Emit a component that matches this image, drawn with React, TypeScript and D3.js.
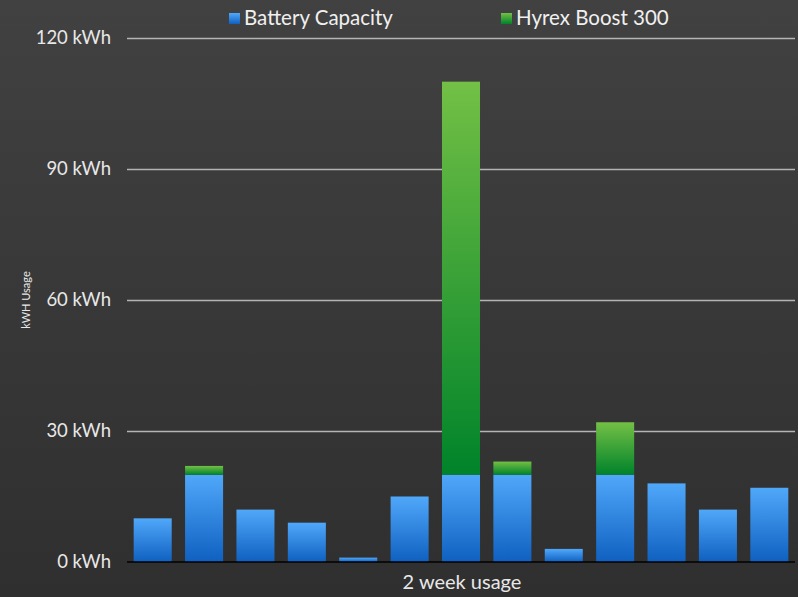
import React, { useEffect, useRef } from 'react';
import * as d3 from 'd3';

// values
const days = ['1', '2', '3', '4', '5', '6', '7', '8', '9', '10', '11', '12', '13'];
const battery = [10, 20, 12, 9, 1, 15, 20, 20, 3, 20, 18, 12, 17];
const hyrex = [0, 2, 0, 0, 0, 0, 90, 3, 0, 12, 0, 0, 0];
const yTicks = [0, 30, 60, 90, 120];
const seriesNames = ['Battery Capacity', 'Hyrex Boost 300'];

const App = () => {
    const ref = useRef<SVGSVGElement>(null);

    useEffect(() => {
        document.body.style.margin = '0';
        if (!ref.current) return;
        const width = 798, height = 597;
        const margin = { top: 38, right: 3, bottom: 35, left: 127 };

        const svg = d3.select(ref.current);
        svg.selectAll('*').remove();
        svg.attr('width', width).attr('height', height);

        const defs = svg.append('defs');
        const grad = (id: string, top: string, bottom: string) => {
            const g = defs.append('linearGradient').attr('id', id)
                .attr('x1', 0).attr('y1', 0).attr('x2', 0).attr('y2', 1);
            g.append('stop').attr('offset', '0%').attr('stop-color', top);
            g.append('stop').attr('offset', '100%').attr('stop-color', bottom);
        };
        grad('bg', '#414141', '#2f2f2f');
        grad('blue', '#50a8fa', '#0f60c0');
        grad('green', '#73c045', '#00832a');

        svg.append('rect').attr('width', width).attr('height', height).attr('fill', 'url(#bg)');

        const x = d3.scaleBand()
            .domain(days)
            .range([margin.left, width - margin.right])
            .paddingInner(0.26)
            .paddingOuter(0.13);

        const y = d3.scaleLinear()
            .domain([0, 120])
            .range([height - margin.bottom, margin.top]);

        // grid lines + tick labels
        const axis = svg.append('g')
            .attr('transform', `translate(${margin.left},0)`)
            .call(d3.axisLeft(y).tickValues(yTicks).tickFormat(d => `${d} kWh`)
                .tickSize(-(width - margin.left - margin.right)).tickPadding(16));
        axis.select('.domain').remove();
        axis.selectAll('line').attr('stroke', '#b4b4b4').attr('stroke-width', 1.5)
            .filter(d => d === 0).remove();
        axis.selectAll('text')
            .attr('fill', '#e8e8e8')
            .attr('font-family', 'Lato, sans-serif')
            .attr('font-size', 18.5);

        // stacked bars
        const bars = svg.append('g');
        days.forEach((d, i) => {
            bars.append('rect')
                .attr('x', x(d)!)
                .attr('width', x.bandwidth())
                .attr('y', y(battery[i]))
                .attr('height', y(0) - y(battery[i]))
                .attr('fill', 'url(#blue)');
            if (hyrex[i] > 0) {
                bars.append('rect')
                    .attr('x', x(d)!)
                    .attr('width', x.bandwidth())
                    .attr('y', y(battery[i] + hyrex[i]))
                    .attr('height', y(battery[i]) - y(battery[i] + hyrex[i]))
                    .attr('fill', 'url(#green)');
            }
        });

        // zero line
        svg.append('line')
            .attr('x1', margin.left).attr('x2', width - margin.right)
            .attr('y1', y(0)).attr('y2', y(0))
            .attr('stroke', '#000').attr('stroke-width', 1.5);

        // axis titles
        svg.append('text')
            .attr('x', 462)
            .attr('y', 589)
            .attr('text-anchor', 'middle')
            .attr('fill', '#e8e8e8')
            .attr('font-family', 'Lato, sans-serif')
            .attr('font-size', 20)
            .text('2 week usage');

        svg.append('text')
            .attr('transform', `translate(30,${300}) rotate(-90)`)
            .attr('text-anchor', 'middle')
            .attr('fill', '#e8e8e8')
            .attr('font-family', 'Lato, sans-serif')
            .attr('font-size', 11)
            .text('kWH Usage');

        // legend
        const legendX = [229, 501];
        const legendFill = ['url(#blue)', 'url(#green)'];
        seriesNames.forEach((name, i) => {
            const g = svg.append('g').attr('transform', `translate(${legendX[i]},13)`);
            g.append('rect').attr('width', 11).attr('height', 11).attr('fill', legendFill[i]);
            g.append('text')
                .attr('x', 15).attr('y', 12)
                .attr('fill', '#f0f0f0')
                .attr('font-family', 'Lato, sans-serif')
                .attr('font-size', 20.5)
                .text(name);
        });
    }, []);

    return <svg ref={ref} style={{ display: 'block' }} />;
};

export default App;
